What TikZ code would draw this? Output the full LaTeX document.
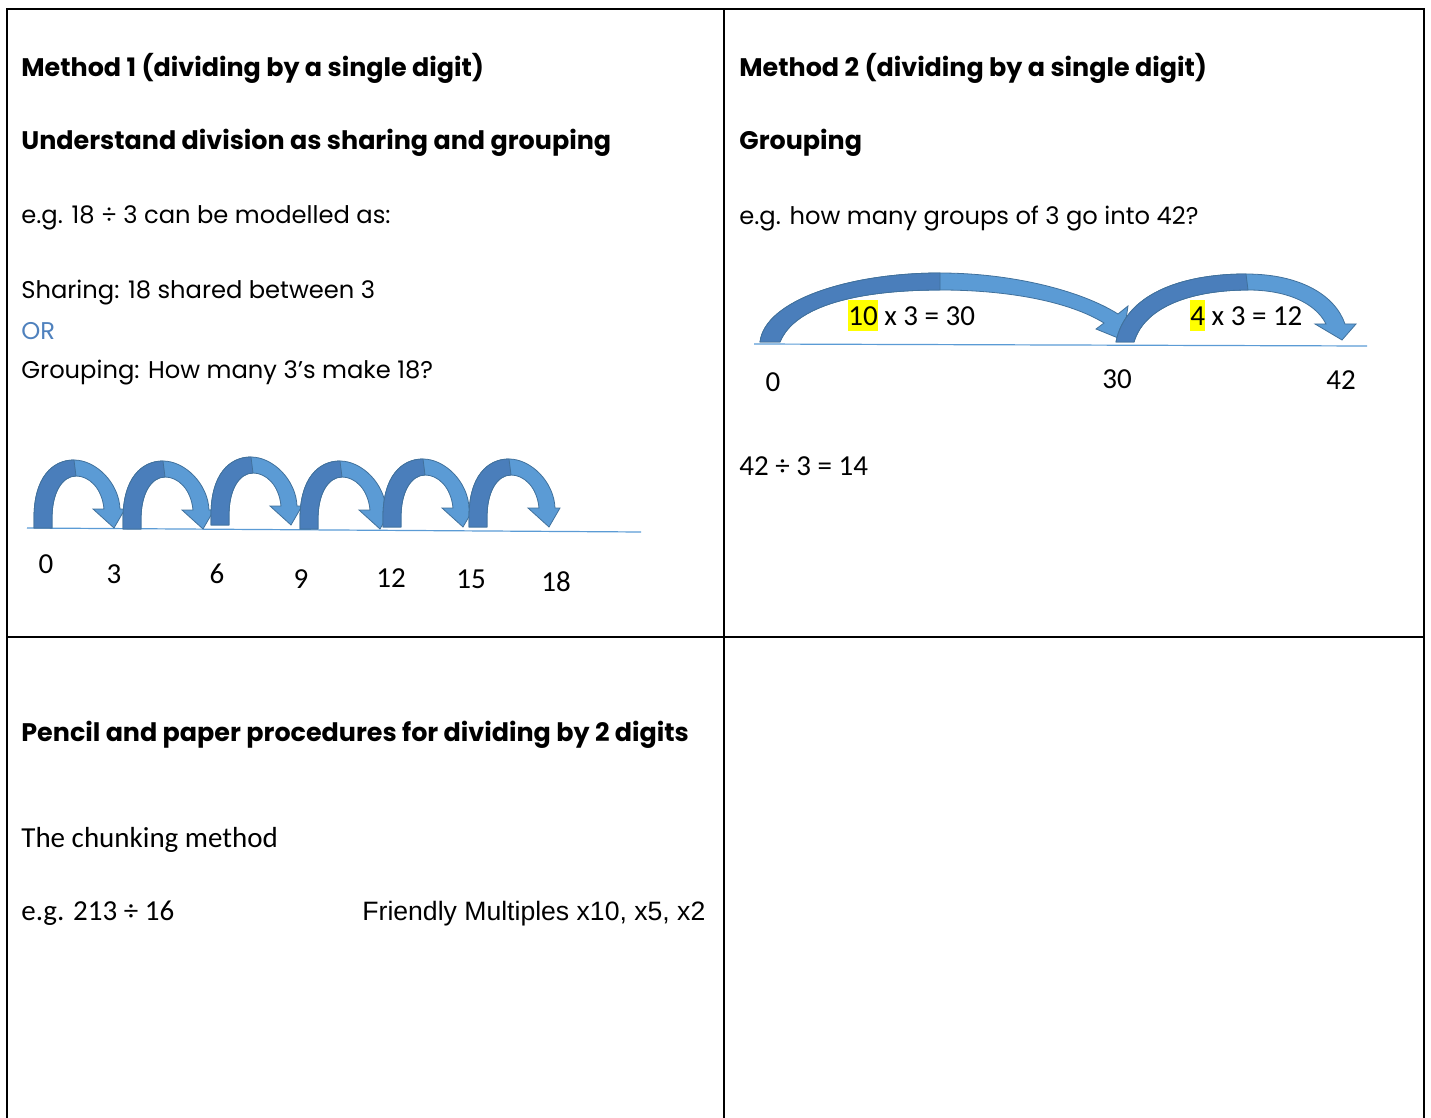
\documentclass[tikz,border=0pt]{standalone}
\usepackage{fontspec}
\setmainfont{Carlito}
\newfontfamily\comic{Poppins}
\newfontfamily\arialfont{Liberation Sans}

\definecolor{arcblue}{HTML}{5B9BD5}
\definecolor{arcdark}{HTML}{4A7EBB}
\definecolor{arcedge}{HTML}{41719C}
\definecolor{orblue}{HTML}{4F81BD}
\definecolor{marker}{HTML}{FFFF00}

\newcommand{\hl}[1]{{\setlength{\fboxsep}{0pt}\colorbox{marker}{\rule[-2.5pt]{0pt}{15.5pt}#1}}}

\tikzset{
  headtext/.style={anchor=base west, inner sep=0pt, font=\comic\bfseries\fontsize{12.7}{15}\selectfont},
  comictext/.style={anchor=base west, inner sep=0pt, font=\comic\fontsize{12.1}{14}\selectfont},
  bodytext/.style={anchor=base west, inner sep=0pt, font=\fontsize{14.5}{17}\selectfont},
  numlabel/.style={anchor=base, inner sep=0pt, font=\fontsize{14.5}{17}\selectfont},
  numline/.style={arcblue, line width=0.6pt},
  hopfill/.style={fill=arcblue, draw=arcedge, line width=0.4pt},
  hopdark/.style={fill=arcdark, draw=arcedge, line width=0.4pt},
}

\begin{document}
\begin{tikzpicture}[x=0.5pt, y=-0.5pt]
    \useasboundingbox (0,0) rectangle (1431,1118);

    % Table
    \draw[line width=1pt] (7,1118) -- (7,9) -- (1424,9) -- (1424,1118);
    \draw[line width=1pt] (724,9) -- (724,1118);
    \draw[line width=1pt] (7,637) -- (1424,637);

    % Method 1
    \node[headtext] (m1title) at (21,77) {Method 1 (dividing by a single digit)};
    \node[headtext] (m1sub) at (21,150) {Understand division as sharing and grouping};
    \node[comictext] (m1eg) at (21,224) {e.g. 18 ÷ 3 can be modelled as:};
    \node[comictext] (m1share) at (21,299) {Sharing: 18 shared between 3};
    \node[comictext, text=orblue] (m1or) at (21,340) {OR};
    \node[comictext] (m1group) at (21,379) {Grouping: How many 3’s make 18?};

    % Hops of 3
    \draw[numline] (27,528) -- (641,532);
    \foreach \x/\y in {34/528, 123/529, 211/525, 300/529, 383/527, 469/527} {
        \begin{scope}[shift={(\x,\y)}]
            \filldraw[hopfill] (0,0) -- (0,-10) .. controls (0,-50) and (18,-68) .. (40,-68)
                .. controls (62,-68) and (85,-45) .. (86,-19) -- (91,-19) -- (80,0) -- (59,-19) -- (70,-19)
                .. controls (68,-40) and (55,-52) .. (42,-52) .. controls (28,-52) and (18,-35) .. (18,-10)
                -- (18,0) -- cycle;
            \filldraw[hopdark] (0,0) -- (0,-10) .. controls (0,-50) and (18,-68) .. (40,-68) -- (42,-52)
                .. controls (28,-52) and (18,-35) .. (18,-10) -- (18,0) -- cycle;
        \end{scope}
    }
    \foreach \x/\y/\t in {46/574/0, 114/583/3, 217/583/6, 301/588/9, 391/587/12, 471/588/15, 556/591/18}
        \node[numlabel] (h\t) at (\x,\y) {\t};

    % Method 2
    \node[headtext] (m2title) at (739,77) {Method 2 (dividing by a single digit)};
    \node[headtext] (m2sub) at (739,150) {Grouping};
    \node[comictext] (m2eg) at (739,225) {e.g. how many groups of 3 go into 42?};

    \draw[numline] (754,344) -- (1367,346);
    % big jump
    \filldraw[hopfill] (760,342) .. controls (765,300) and (850,273) .. (940,273)
        .. controls (1010,273) and (1080,290) .. (1118,314) -- (1128,306) -- (1123,340) -- (1096,329)
        -- (1104,323) .. controls (1070,302) and (1010,290) .. (940,290)
        .. controls (860,290) and (795,305) .. (780,342) -- cycle;
    \filldraw[hopdark] (760,342) .. controls (765,300) and (850,273) .. (940,273) -- (940,290)
        .. controls (860,290) and (795,305) .. (780,342) -- cycle;
    % small jump
    \filldraw[hopfill] (1116,342) .. controls (1125,295) and (1180,274) .. (1246,274)
        .. controls (1300,274) and (1335,295) .. (1345,324) -- (1356,324) -- (1342,340) -- (1315,324)
        -- (1326,324) .. controls (1315,302) and (1285,290) .. (1248,290)
        .. controls (1195,290) and (1145,305) .. (1134,342) -- cycle;
    \filldraw[hopdark] (1116,342) .. controls (1125,295) and (1180,274) .. (1246,274) -- (1248,290)
        .. controls (1195,290) and (1145,305) .. (1134,342) -- cycle;

    \node[bodytext] (tenjump) at (848,326) {\hl{10} x 3 = 30};
    \node[bodytext] (fourjump) at (1190,326) {\hl{4} x 3 = 12};
    \node[numlabel] (g0) at (773,392) {0};
    \node[numlabel] (g30) at (1117,389) {30};
    \node[numlabel] (g42) at (1341,390) {42};
    \node[bodytext] (m2calc) at (739,475) {42 ÷ 3 = 14};

    % Two digit division
    \node[headtext] (padtitle) at (21,741) {Pencil and paper procedures for dividing by 2 digits};
    \node[bodytext] (chunk) at (21,847) {The chunking method};
    \node[bodytext] (chunkeg) at (21,920) {e.g. 213 ÷ 16};
    \node[bodytext, font=\arialfont\fontsize{13.3}{16}\selectfont] (friendly) at (362,920) {Friendly Multiples x10, x5, x2};
\end{tikzpicture}
\end{document}
